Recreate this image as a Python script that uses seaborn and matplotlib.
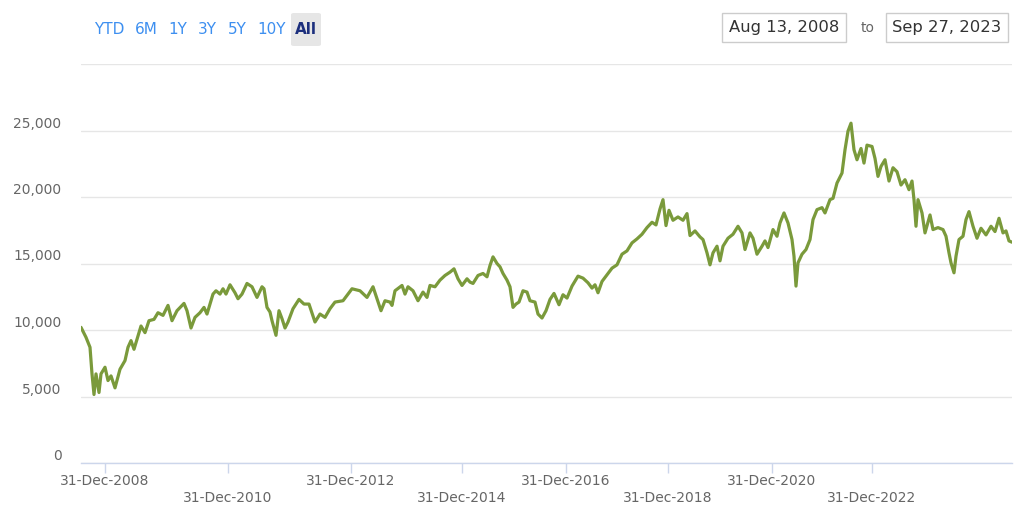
import matplotlib
matplotlib.use("Agg")
import matplotlib.pyplot as plt
from matplotlib.patches import FancyBboxPatch, Rectangle
import seaborn as sns
import pandas as pd

# ordinal session index (Highcharts-style ordinal axis) and closing values
session = [0, 20, 36, 44, 52, 60, 72, 80, 96, 108, 120, 136, 156, 176, 188, 200, 212, 224, 240, 256,
           272, 292, 308, 328, 348, 364, 384, 412, 424, 440, 456, 476, 492, 504, 528, 540, 556, 568, 580, 596,
           616, 628, 644, 664, 684, 704, 724, 732, 744, 756, 764, 780, 792, 804, 816, 828, 848, 872, 892, 912,
           936, 956, 976, 996, 1016, 1048, 1084, 1116, 1144, 1168, 1184, 1200, 1216, 1236, 1244, 1256, 1284, 1296, 1308, 1328,
           1348, 1368, 1384, 1396, 1416, 1436, 1456, 1476, 1492, 1508, 1524, 1544, 1556, 1568, 1588, 1608, 1624, 1636, 1648, 1664,
           1676, 1688, 1704, 1716, 1728, 1740, 1752, 1768, 1784, 1796, 1816, 1828, 1844, 1860, 1876, 1892, 1912, 1928, 1944, 1964,
           1988, 2008, 2028, 2044, 2056, 2068, 2084, 2104, 2124, 2144, 2164, 2184, 2204, 2224, 2244, 2264, 2284, 2300, 2316, 2328,
           2340, 2352, 2368, 2388, 2408, 2424, 2436, 2456, 2476, 2488, 2504, 2516, 2528, 2544, 2556, 2568, 2588, 2608, 2628, 2644,
           2656, 2676, 2688, 2704, 2724, 2736, 2748, 2768, 2784, 2796, 2812, 2828, 2844, 2852, 2860, 2868, 2884, 2900, 2916, 2928,
           2944, 2964, 2976, 2996, 3008, 3024, 3044, 3056, 3068, 3080, 3092, 3104, 3120, 3132, 3144, 3164, 3176, 3188, 3200, 3216,
           3232, 3248, 3264, 3280, 3296, 3312, 3324, 3332, 3340, 3348, 3364, 3376, 3396, 3408, 3428, 3448, 3460, 3472, 3480, 3492,
           3500, 3512, 3528, 3540, 3552, 3568, 3584, 3600, 3620, 3640, 3656, 3672, 3688, 3700, 3712, 3724]
close = [10200, 9450, 8700, 6700, 5150, 6700, 5300, 6700, 7200, 6200, 6550, 5650, 7050, 7700, 8700, 9200, 8550, 9300, 10300, 9800,
         10700, 10800, 11300, 11100, 11850, 10700, 11450, 12000, 11450, 10150, 10950, 11300, 11700, 11200, 12700, 12950, 12700, 13100, 12700, 13400,
         12800, 12350, 12700, 13500, 13250, 12450, 13250, 13100, 11700, 11350, 10700, 9600, 11450, 10850, 10150, 10600, 11600, 12300, 11950, 11950,
         10600, 11200, 10950, 11600, 12100, 12200, 13100, 12950, 12450, 13250, 12350, 11450, 12200, 12100, 11850, 12950, 13350, 12700, 13250, 12950,
         12200, 12850, 12450, 13350, 13250, 13750, 14100, 14350, 14600, 13850, 13350, 13850, 13600, 13500, 14100, 14250, 14000, 14850, 15500, 15000,
         14750, 14250, 13750, 13250, 11700, 11950, 12100, 12950, 12850, 12200, 12100, 11200, 10900, 11450, 12300, 12750, 11900, 12650, 12400, 13300,
         14050, 13900, 13550, 13150, 13400, 12800, 13650, 14150, 14650, 14900, 15700, 15950, 16550, 16850, 17200, 17700, 18100, 17900, 19100, 19800,
         17850, 19000, 18250, 18500, 18250, 18750, 17100, 17450, 17000, 16800, 15800, 14900, 15800, 16300, 15200, 16300, 16900, 17200, 17800, 17300,
         16050, 17300, 16900, 15700, 16300, 16700, 16200, 17550, 17050, 18050, 18800, 18050, 16800, 15550, 13300, 15050, 15700, 16050, 16800, 18300,
         19050, 19200, 18800, 19800, 19900, 21050, 21800, 23550, 24950, 25550, 23550, 22800, 23650, 22550, 23900, 23800, 22900, 21550, 22300, 22800,
         21200, 22200, 21900, 20900, 21300, 20550, 21200, 19800, 17800, 19800, 18800, 17300, 18650, 17550, 17700, 17550, 17050, 15800, 15050, 14300,
         15550, 16800, 17050, 18300, 18900, 17800, 16900, 17650, 17150, 17800, 17400, 18400, 17300, 17450, 16700, 16600]

tick_sessions = [96, 588, 1080, 1524, 1940, 2348, 2764, 3164]
tick_labels = ["31-Dec-2008", "31-Dec-2010", "31-Dec-2012", "31-Dec-2014",
               "31-Dec-2016", "31-Dec-2018", "31-Dec-2020", "31-Dec-2022"]
y_ticks = [0, 5000, 10000, 15000, 20000, 25000, 30000]
range_buttons = ["YTD", "6M", "1Y", "3Y", "5Y", "10Y", "All"]
date_from = "Aug 13, 2008"
date_to = "Sep 27, 2023"

sns.set_theme(style="white")
plt.rcParams["font.family"] = ["DejaVu Sans"]

W, H = 1024, 516
fig = plt.figure(figsize=(W / 100, H / 100), dpi=100)
fig.patch.set_facecolor("white")
ax = fig.add_axes([81 / W, (H - 463) / H, (1012 - 81) / W, (463 - 64) / H])

df = pd.DataFrame({"session": session, "close": close})
sns.lineplot(data=df, x="session", y="close", ax=ax, color="#7a9a3b", linewidth=2.3)

ax.set_xlim(0, 3724)
ax.set_ylim(0, 30000)
ax.set_xlabel("")
ax.set_ylabel("")

ax.set_yticks(y_ticks)
ax.set_yticklabels([f"{v:,}" if v < 30000 else "" for v in y_ticks])
for lbl in ax.get_yticklabels():
    lbl.set_va("bottom")
ax.yaxis.grid(True, color="#e6e6e6", linewidth=1.0)
ax.tick_params(axis="y", left=False, length=0, pad=14, labelsize=10, labelcolor="#666666")

ax.set_xticks(tick_sessions)
ax.set_xticklabels([t if i % 2 == 0 else "\n" + t for i, t in enumerate(tick_labels)])
ax.tick_params(axis="x", bottom=True, length=7.2, width=1, color="#ccd6eb", direction="out",
               pad=1, labelsize=10, labelcolor="#666666")
for s in ["top", "right", "left"]:
    ax.spines[s].set_visible(False)
ax.spines["bottom"].set_color("#ccd6eb")
ax.spines["bottom"].set_linewidth(1)

# range selector buttons
def px(x, y):
    return x / W, 1 - y / H

btn_x = [109, 146, 178, 207, 237, 272, 306]
for label, bx in zip(range_buttons, btn_x):
    if label == "All":
        x0, y0 = px(291, 46)
        box = FancyBboxPatch((x0, y0), 30 / W, 33 / H, boxstyle="round,pad=0,rounding_size=0.003",
                             transform=fig.transFigure, facecolor="#e6e6e6", edgecolor="none")
        fig.patches.append(box)
        fig.text(*px(bx, 29), label, ha="center", va="center", fontsize=11,
                 fontweight="bold", color="#1c2f7d")
    else:
        fig.text(*px(bx, 29), label, ha="center", va="center", fontsize=11, color="#3d8ff0")

# date inputs
for (x0, x1), txt in [((722, 846), date_from), ((886, 1008), date_to)]:
    bx0, by0 = px(x0, 42)
    rect = Rectangle((bx0, by0), (x1 - x0) / W, 29 / H, transform=fig.transFigure,
                     facecolor="white", edgecolor="#cccccc", linewidth=1)
    fig.patches.append(rect)
    fig.text(*px((x0 + x1) / 2, 27.5), txt, ha="center", va="center", fontsize=11.8, color="#333333")
fig.text(*px(868, 27.5), "to", ha="center", va="center", fontsize=10, color="#666666")

fig.savefig("out.png", dpi=100, facecolor="white")
